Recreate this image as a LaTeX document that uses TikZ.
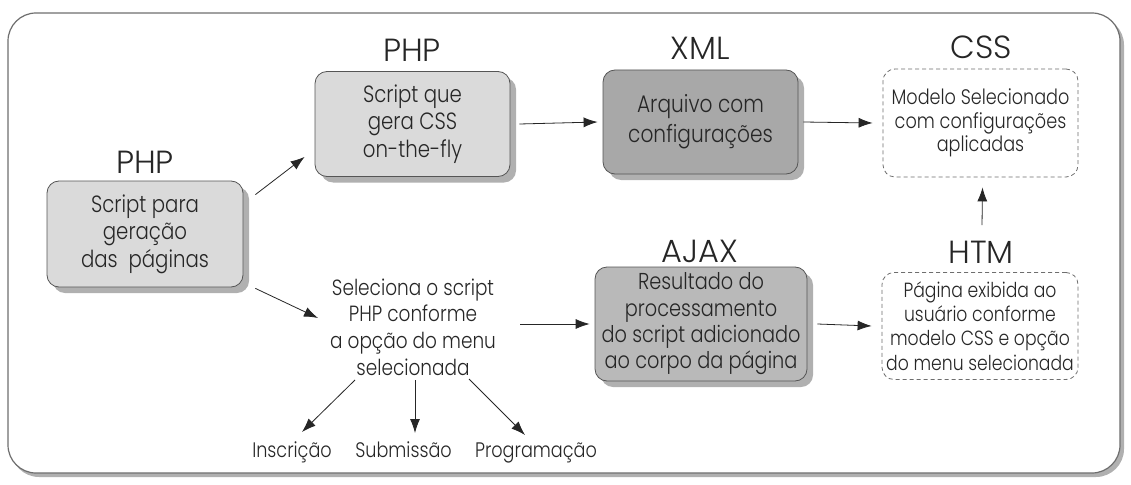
\documentclass[tikz,border=0pt]{standalone}
\usepackage{fontspec}
\setmainfont{Poppins}[UprightFont={* Light}, FakeStretch=0.84]
\newfontfamily\labfont{Poppins}[UprightFont={* Light}]
\usetikzlibrary{shadows,arrows.meta}
\definecolor{txt}{HTML}{262626}
\definecolor{light}{HTML}{DADADA}
\definecolor{dark}{HTML}{A8A8A8}
\definecolor{mid}{HTML}{B9B9B9}
\definecolor{shad}{HTML}{B0B0B0}
\definecolor{edge}{HTML}{555555}
\definecolor{frame}{HTML}{6E6E6E}
\tikzset{
  solidbox/.style={draw=edge, line width=0.8pt, rounded corners=12pt, align=center,
    text=txt, general shadow={fill=shad, shadow xshift=6pt, shadow yshift=-6pt},
    font=\fontsize{23.5}{27.5}\selectfont},
  dashbox/.style={draw=frame, line width=0.8pt, dash pattern=on 4pt off 3pt,
    rounded corners=12pt, align=center, text=txt, fill=white,
    font=\fontsize{21}{23.5}\selectfont},
  lab/.style={text=txt, font=\labfont\fontsize{32}{34}\selectfont, inner sep=0pt, anchor=base},
  plain/.style={text=txt, align=center, font=\fontsize{22}{26.7}\selectfont, inner sep=0pt},
  item/.style={text=txt, font=\fontsize{21}{24}\selectfont, inner sep=0pt, anchor=base},
  arr/.style={draw=txt, line width=0.8pt, -{Latex[length=14pt,width=10pt]}},
}
\begin{document}
\begin{tikzpicture}[x=1pt,y=-1pt]
\useasboundingbox (0,0) rectangle (1131,484);
% frame
\fill[shad, rounded corners=28pt] (11,17) rectangle (1124,477);
\draw[fill=white, draw=frame, line width=1.2pt, rounded corners=28pt] (8,13) rectangle (1120,473);

% boxes
\node[solidbox, fill=light, minimum width=196pt, minimum height=106pt] (b1) at (145,234)
  {Script para\\geração\\das~~páginas};
\node[solidbox, fill=light, minimum width=195pt, minimum height=105pt] (b2) at (412.5,124)
  {Script que\\gera CSS\\on-the-fly};
\node[solidbox, fill=dark, minimum width=195pt, minimum height=104pt, font=\fontsize{24}{30}\selectfont] (b3) at (700.5,122)
  {Arquivo com\\configurações};
\node[dashbox, minimum width=195pt, minimum height=108pt] (b4) at (980.5,123)
  {Modelo Selecionado\\com configurações\\aplicadas};
\node[solidbox, fill=mid, minimum width=212pt, minimum height=114pt, font=\fontsize{23}{26.3}\selectfont] (aj) at (701,324)
  {Resultado do\\processamento\\do script adicionado\\ao corpo da página};
\node[dashbox, minimum width=196pt, minimum height=107pt, inner sep=2pt, font=\fontsize{20.5}{24.3}\selectfont] (ht) at (980,326)
  {Página exibida ao\\usuário conforme\\modelo CSS e opção\\do menu selecionada};

% labels
\node[lab] (l1) at (145,173) {PHP};
\node[lab] (l2) at (412,62) {PHP};
\node[lab] (l3) at (700,60) {XML};
\node[lab] (l4) at (981,59) {CSS};
\node[lab] (l5) at (700,262) {AJAX};
\node[lab] (l6) at (981,263) {HTM};

% middle text
\node[plain] (sel) at (413,327) {Seleciona o script\\PHP conforme\\a opção do menu\\selecionada};
\node[item] (ins) at (292,457) {Inscrição};
\node[item] (sub) at (403.5,457) {Submissão};
\node[item] (prog) at (536,457) {Programação};

% arrows
\draw[arr] ([shift={(12,14)}]b1.north east) -- ([shift={(-10,-20)}]b2.south west);
\draw[arr] ([shift={(12,1)}]b1.south east) -- ([shift={(-95,-9)}]sel.center);
\draw[arr] ([xshift=107pt]sel.center |- aj.west) -- ([xshift=-5pt]aj.west);
\draw[arr] ([xshift=10pt]aj.east) -- ([xshift=-10pt]ht.west);
\draw[arr] ([xshift=9pt]b2.east) -- ([xshift=-5pt]b3.west);
\draw[arr] ([xshift=5pt]b3.east) -- ([xshift=-10pt]b4.west);
\draw[arr] ([shift={(2,-47)}]ht.north) -- ([shift={(2,10)}]b4.south);
\draw[arr] ([shift={(-58,53)}]sel.center) -- ([shift={(10,-25)}]ins.base);
\draw[arr] ([shift={(2,53)}]sel.center) -- ([shift={(11.5,-24)}]sub.base);
\draw[arr] ([shift={(56,52)}]sel.center) -- ([shift={(-11,-22)}]prog.base);
\end{tikzpicture}
\end{document}
